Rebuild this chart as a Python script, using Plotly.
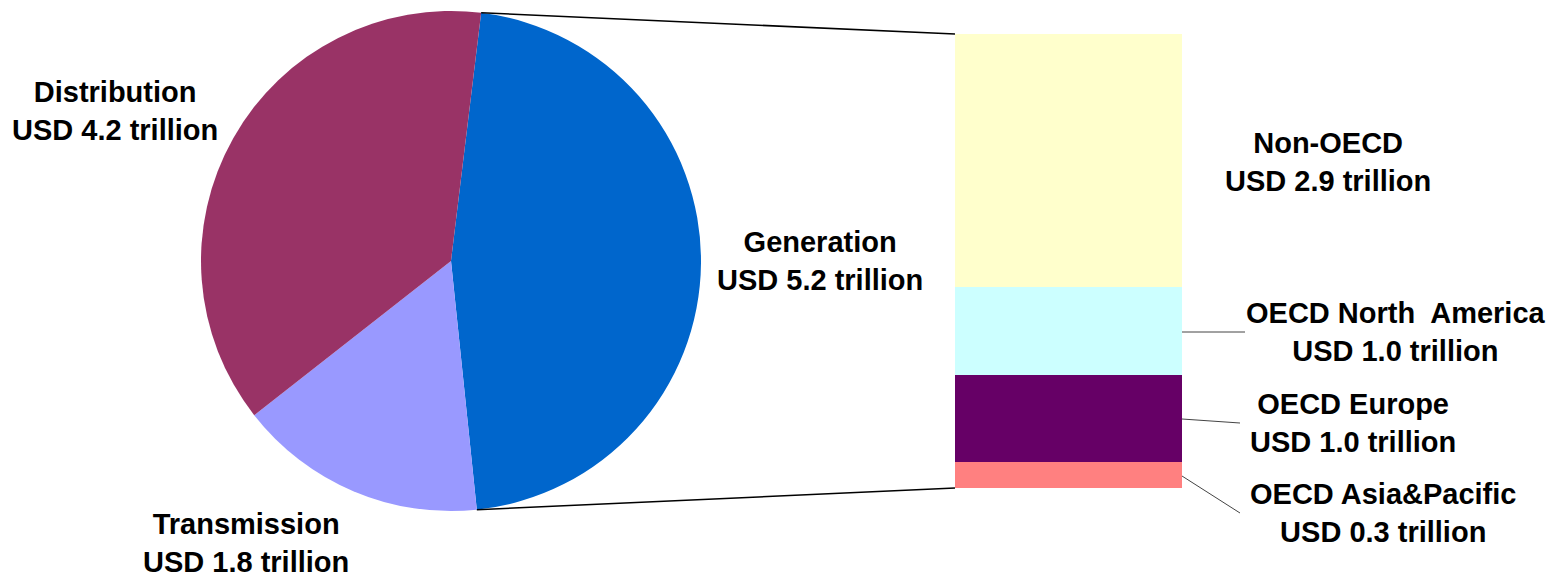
import math
import plotly.graph_objects as go

W, H = 1562, 577

# ---- data ----
segments = ["Generation", "Transmission", "Distribution"]
segment_values = [5.2, 1.8, 4.2]
segment_colors = ["#0066CC", "#9999FF", "#993366"]

regions = ["OECD Asia&Pacific", "OECD Europe", "OECD North America", "Non-OECD"]
region_values = [0.3, 1.0, 1.0, 2.9]
region_colors = ["#FF8080", "#660066", "#CCFFFF", "#FFFFCC"]

# ---- layout constants (pixels) ----
pie_cx, pie_cy, pie_r = 451, 261, 250
bar_x0, bar_x1 = 955, 1182
bar_top, bar_bot = 34, 488

def px(x):
    return x / W

def py(y):
    return 1 - y / H

total = sum(segment_values)
rotation = 90 - 0.5 * 360 * segment_values[0] / total + 0.5

fig = go.Figure()
fig.add_trace(go.Pie(
    labels=segments, values=segment_values, sort=False, direction="clockwise",
    rotation=rotation, marker=dict(colors=segment_colors, line=dict(width=0)),
    textinfo="none", hoverinfo="label+value", showlegend=False,
    domain=dict(x=[px(pie_cx - pie_r), px(pie_cx + pie_r)],
                y=[py(pie_cy + pie_r), py(pie_cy - pie_r)]),
))

for name, v, c in zip(regions, region_values, region_colors):
    fig.add_trace(go.Bar(
        x=[0.5], y=[v], width=[1], name=name, marker=dict(color=c, line=dict(width=0)),
        showlegend=False, hoverinfo="name+y",
    ))

bar_total = sum(region_values)
fig.update_layout(
    barmode="stack", width=W, height=H,
    margin=dict(l=0, r=0, t=0, b=0),
    paper_bgcolor="white", plot_bgcolor="rgba(0,0,0,0)",
    xaxis=dict(domain=[px(bar_x0), px(bar_x1)], range=[0, 1], visible=False, fixedrange=True),
    yaxis=dict(domain=[py(bar_bot), py(bar_top)], range=[0, bar_total], visible=False, fixedrange=True),
    font=dict(family="Liberation Sans, Arial, sans-serif", size=29, color="black"),
)

# connector lines from generation slice edges to bar corners
a0 = math.radians(rotation)
a1 = math.radians(rotation + 360 * segment_values[0] / total)
p0 = (pie_cx + pie_r * math.sin(a0), pie_cy - pie_r * math.cos(a0))
p1 = (pie_cx + pie_r * math.sin(a1), pie_cy - pie_r * math.cos(a1))
for (x, y), yb in [(p0, bar_top), (p1, bar_bot)]:
    fig.add_shape(type="line", xref="paper", yref="paper",
                  x0=px(x), y0=py(y), x1=px(bar_x0), y1=py(yb),
                  line=dict(color="black", width=1.5))

# leader lines
leaders = [((1182, 332), (1245, 332)), ((1182, 419), (1240, 423)), ((1182, 476), (1240, 513))]
for (xa, ya), (xb, yb) in leaders:
    fig.add_shape(type="line", xref="paper", yref="paper",
                  x0=px(xa), y0=py(ya), x1=px(xb), y1=py(yb),
                  line=dict(color="#444444", width=1))

labels = [
    ("Distribution<br>USD 4.2 trillion", 115, 111),
    ("Generation<br>USD 5.2 trillion", 820, 261),
    ("Transmission<br>USD 1.8 trillion", 246, 543),
    ("Non-OECD<br>USD 2.9 trillion", 1328, 162),
    ("OECD North  America<br>USD 1.0 trillion", 1396, 332),
    ("OECD Europe<br>USD 1.0 trillion", 1353, 423),
    ("OECD Asia&Pacific<br>USD 0.3 trillion", 1383, 513),
]
for t, x, y in labels:
    fig.add_annotation(text="<b>" + t + "</b>", xref="paper", yref="paper",
                       x=px(x), y=py(y), xanchor="center", yanchor="middle",
                       showarrow=False, align="center")

fig.write_html("out.html")
